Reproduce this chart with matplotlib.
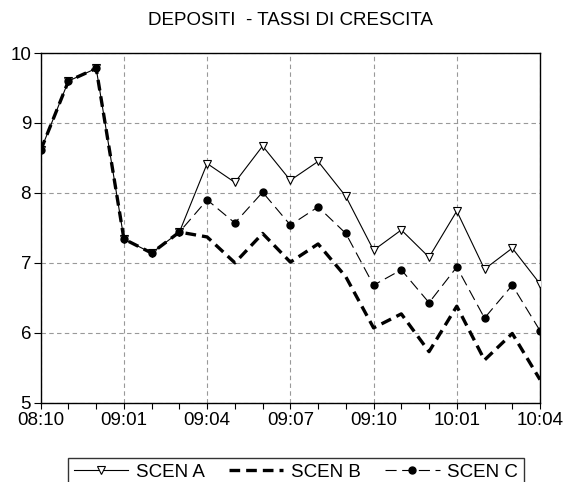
import matplotlib
matplotlib.use("Agg")
import matplotlib.pyplot as plt
import numpy as np

plt.rcParams['font.family'] = ['Liberation Sans', 'DejaVu Sans']

months = ['08:10', '08:11', '08:12', '09:01', '09:02', '09:03', '09:04', '09:05', '09:06',
          '09:07', '09:08', '09:09', '09:10', '09:11', '09:12', '10:01', '10:02', '10:03', '10:04']
tick_labels = ['08:10', '09:01', '09:04', '09:07', '09:10', '10:01', '10:04']
scen_a = [8.61, 9.60, 9.78, 7.34, 7.14, 7.44, 8.42, 8.15, 8.67, 8.18, 8.45, 7.95, 7.18, 7.47, 7.08, 7.74, 6.91, 7.21, 6.70]
scen_b = [8.61, 9.60, 9.78, 7.34, 7.14, 7.44, 7.37, 7.00, 7.42, 7.01, 7.27, 6.80, 6.07, 6.27, 5.73, 6.38, 5.61, 5.99, 5.33]
scen_c = [8.61, 9.60, 9.78, 7.34, 7.14, 7.44, 7.90, 7.57, 8.01, 7.54, 7.80, 7.42, 6.68, 6.90, 6.43, 6.94, 6.21, 6.68, 6.03]

x = np.arange(len(months))

fig = plt.figure(figsize=(5.68, 4.82), dpi=100)
ax = fig.add_axes([0.0717, 0.1645, 0.8790, 0.7255])

ax.plot(x, scen_a, color='black', lw=0.8, marker='v', markersize=6,
        markerfacecolor='white', markeredgecolor='black', markeredgewidth=0.8,
        label='SCEN A', zorder=3)
ax.plot(x, scen_b, color='black', lw=2.4, linestyle=(0, (3.2, 1.8)),
        label='SCEN B', zorder=4)
ax.plot(x, scen_c, color='black', lw=0.8, linestyle=(0, (10, 5)), marker='o',
        markersize=5, markerfacecolor='black', markeredgecolor='black',
        label='SCEN C', zorder=3)

ax.set_xlim(0, len(months) - 1)
ax.set_ylim(5, 10)
major = [months.index(t) for t in tick_labels]
ax.set_xticks(major)
ax.set_xticklabels(tick_labels)
ax.set_xticks(x, minor=True)
ax.set_yticks([5, 6, 7, 8, 9, 10])
ax.tick_params(axis='both', which='both', direction='out', length=4, width=0.8,
               labelsize=13.5, colors='black')
ax.tick_params(axis='x', which='minor', length=4)
ax.tick_params(axis='y', length=5, pad=2)
ax.tick_params(axis='x', pad=3)
ax.grid(True, which='major', color='#999999', linestyle=(0, (4, 3)), linewidth=0.8)
for s in ax.spines.values():
    s.set_linewidth(1.0)
    s.set_color('black')

fig.text(0.512, 0.957, 'DEPOSITI  - TASSI DI CRESCITA', ha='center', va='center', fontsize=13.5)

leg = fig.legend(loc='upper center', bbox_to_anchor=(0.521, 0.050), ncol=3,
                 frameon=True, fancybox=False, edgecolor='black', fontsize=13.5,
                 handlelength=2.9, columnspacing=1.3, handletextpad=0.4,
                 borderpad=0.3, borderaxespad=0)
leg.get_frame().set_linewidth(1.0)

fig.savefig('out.png', dpi=100)
